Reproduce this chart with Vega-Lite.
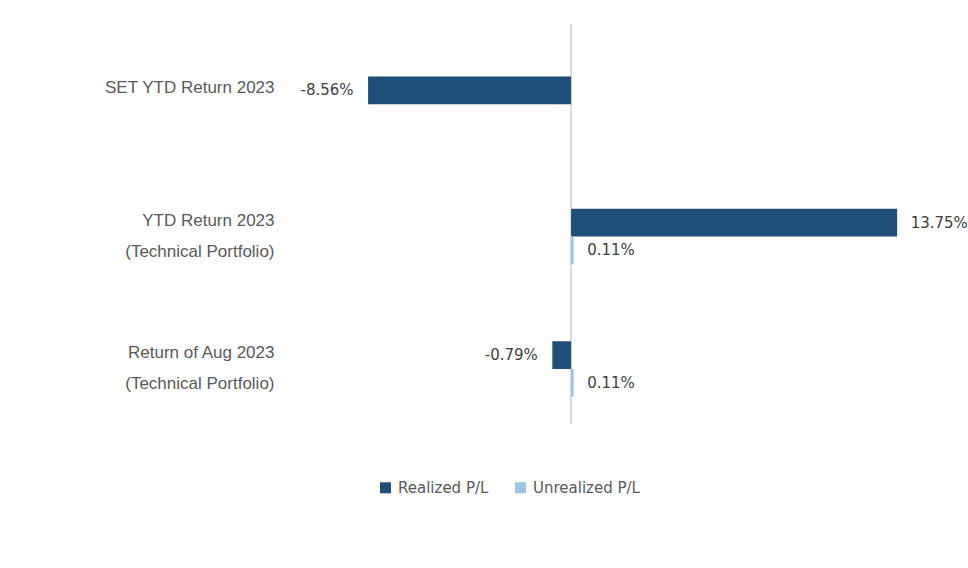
{
  "$schema": "https://vega.github.io/schema/vega-lite/v6.json",
  "width": 664,
  "height": 400,
  "autosize": {"type": "none"},
  "padding": {"left": 286.5, "top": 24, "right": 17.5, "bottom": 144},
  "background": "white",
  "config": {
    "view": {"stroke": null},
    "locale": {"number": {"decimal": ".", "thousands": ",", "grouping": [3], "currency": ["$", ""], "minus": "-"}}
  },
  "data": {
    "values": [
      {"category": "SET YTD Return 2023", "series": "Realized P/L", "value": -0.0856},
      {"category": "YTD Return 2023|(Technical Portfolio)", "series": "Realized P/L", "value": 0.1375},
      {"category": "YTD Return 2023|(Technical Portfolio)", "series": "Unrealized P/L", "value": 0.0011},
      {"category": "Return of Aug 2023|(Technical Portfolio)", "series": "Realized P/L", "value": -0.0079},
      {"category": "Return of Aug 2023|(Technical Portfolio)", "series": "Unrealized P/L", "value": 0.0011}
    ]
  },
  "layer": [
    {
      "mark": {"type": "rule", "color": "#d9d9d9", "strokeWidth": 1},
      "encoding": {
        "x": {"datum": 0, "type": "quantitative", "scale": {"domain": [-0.12, 0.16], "nice": false, "zero": false}, "axis": null}
      }
    },
    {
      "mark": {"type": "bar"},
      "encoding": {
        "y": {
          "field": "category", "type": "nominal", "sort": null,
          "scale": {"paddingInner": 0.581, "paddingOuter": 0.301, "align": 0.658},
          "axis": {
            "title": null, "domain": false, "ticks": false, "tickSize": 0,
            "labelPadding": 12.5, "labelFont": "Liberation Sans", "labelFontSize": 17,
            "labelColor": "#595959", "labelExpr": "split(datum.value, '|')",
            "labelLineHeight": 31, "labelOffset": -16, "labelBaseline": "middle",
            "labelAlign": "right", "labelLimit": 0
          }
        },
        "yOffset": {"field": "series", "sort": ["Realized P/L", "Unrealized P/L"]},
        "x": {"field": "value", "type": "quantitative", "scale": {"domain": [-0.12, 0.16], "nice": false, "zero": false}, "axis": null},
        "color": {
          "field": "series", "type": "nominal",
          "scale": {"domain": ["Realized P/L", "Unrealized P/L"], "range": ["#1f4e79", "#9dc3e6"]},
          "legend": {
            "title": null, "orient": "none", "direction": "horizontal",
            "legendX": 91.5, "legendY": 456,
            "symbolType": "square", "symbolSize": 121, "symbolStrokeWidth": 0,
            "labelFont": "DejaVu Sans", "labelFontSize": 15, "labelColor": "#595959",
            "columnPadding": 24, "labelOffset": 5
          }
        }
      }
    },
    {
      "transform": [{"filter": "datum.value >= 0"}],
      "mark": {"type": "text", "align": "left", "baseline": "middle", "dx": 13.5, "font": "DejaVu Sans", "fontSize": 15, "color": "#404040"},
      "encoding": {
        "y": {"field": "category", "type": "nominal", "sort": null},
        "yOffset": {"field": "series", "sort": ["Realized P/L", "Unrealized P/L"]},
        "x": {"field": "value", "type": "quantitative"},
        "text": {"field": "value", "type": "quantitative", "format": ".2%"}
      }
    },
    {
      "transform": [{"filter": "datum.value < 0"}],
      "mark": {"type": "text", "align": "right", "baseline": "middle", "dx": -14.5, "font": "DejaVu Sans", "fontSize": 15, "color": "#404040"},
      "encoding": {
        "y": {"field": "category", "type": "nominal", "sort": null},
        "yOffset": {"field": "series", "sort": ["Realized P/L", "Unrealized P/L"]},
        "x": {"field": "value", "type": "quantitative"},
        "text": {"field": "value", "type": "quantitative", "format": ".2%"}
      }
    }
  ]
}
